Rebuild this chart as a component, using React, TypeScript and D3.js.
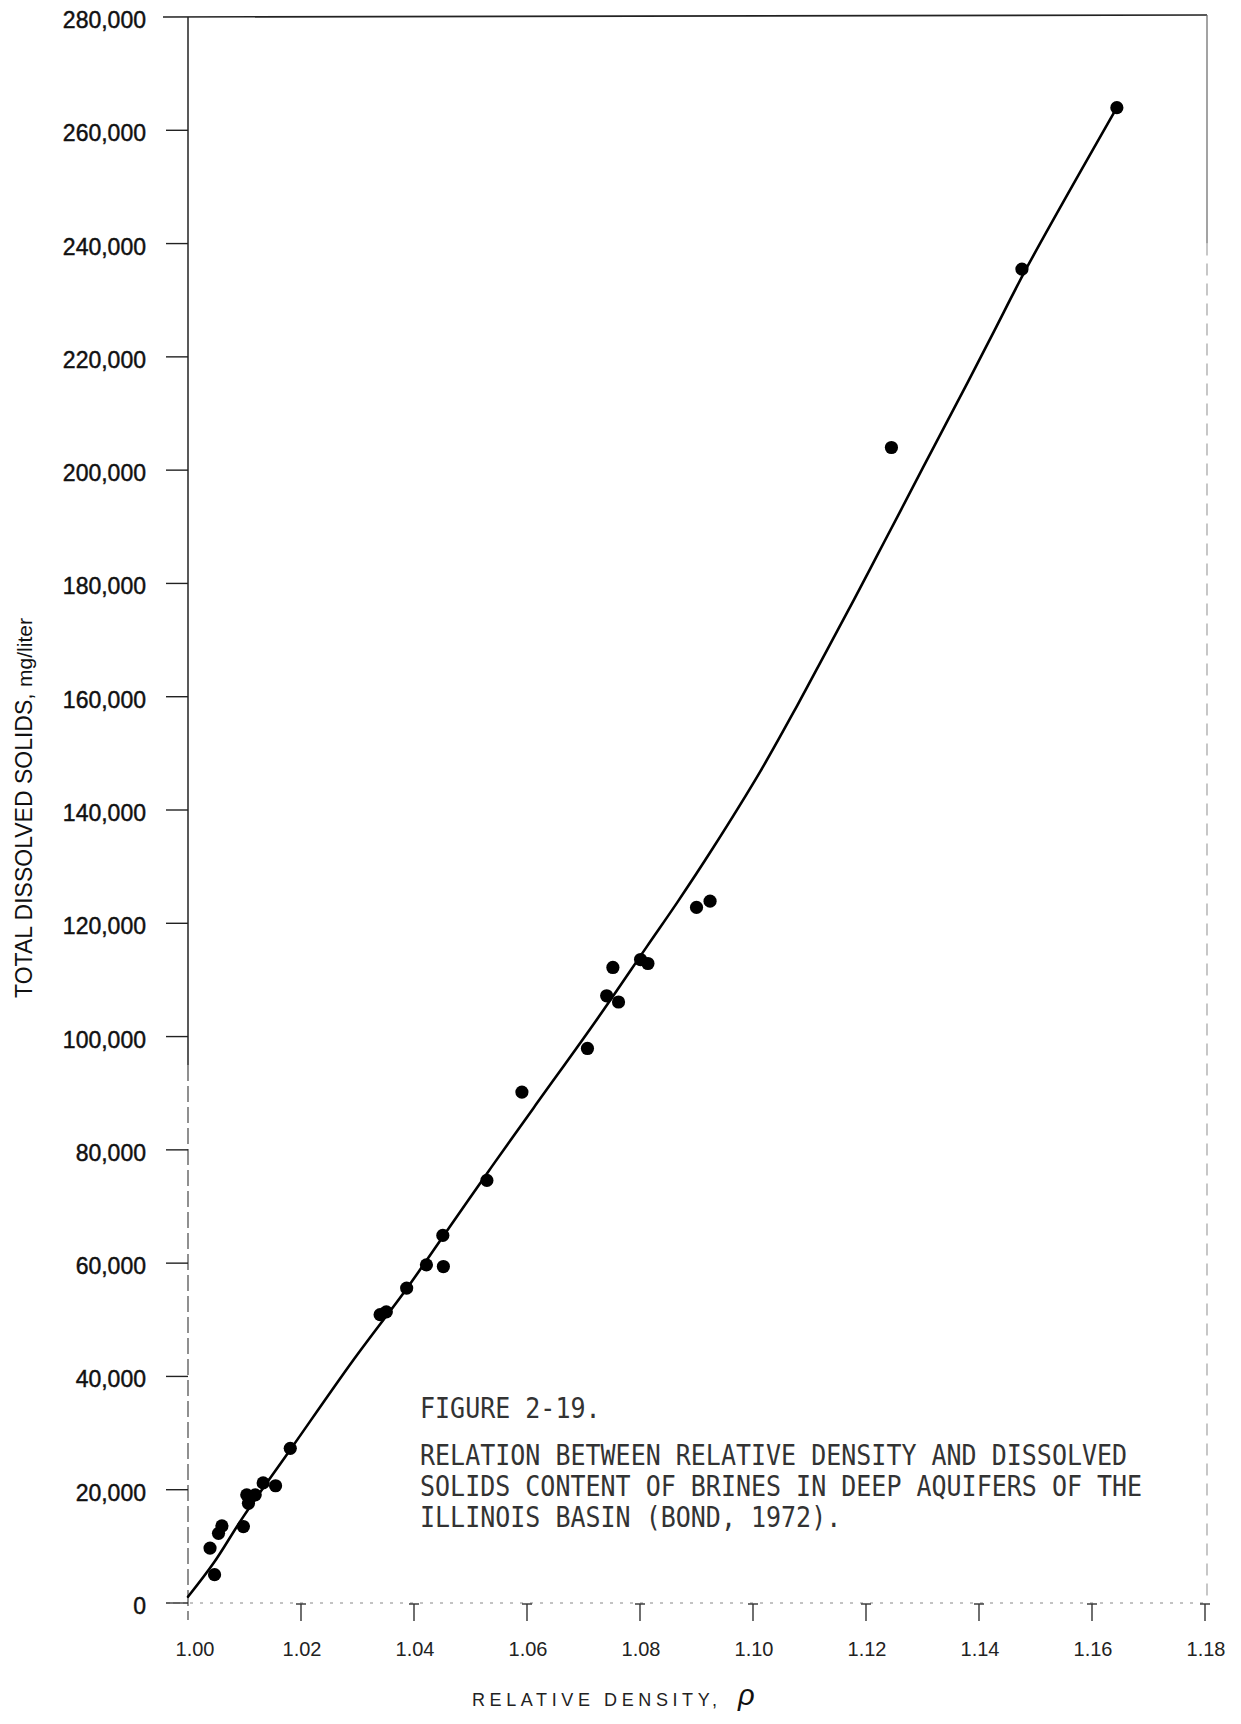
import React from 'react';
import * as d3 from 'd3';

// Brine samples: relative density and total dissolved solids (mg/liter)
const sampleRho = [
  1.0047, 1.0039, 1.0054, 1.006, 1.0098, 1.0107, 1.0104, 1.0119, 1.0133, 1.0155,
  1.0181, 1.034, 1.0351, 1.0387, 1.0422, 1.0452, 1.0451, 1.0529, 1.0591, 1.0707,
  1.0741, 1.0762, 1.0752, 1.0801, 1.0814, 1.09, 1.0924, 1.1245, 1.1476, 1.1644,
];
const sampleTds = [
  5000, 9700, 12300, 13600, 13500, 17600, 19100, 19100, 21200, 20700,
  27300, 50900, 51400, 55600, 59700, 59400, 64900, 74600, 90200, 97900,
  107200, 106100, 112200, 113600, 112900, 122800, 123900, 204000, 235500, 264000,
];

// Hand-fitted relation curve
const fitRho = [
  1.0, 1.0045, 1.0098, 1.0181, 1.0293, 1.0388, 1.0464, 1.0532, 1.0612, 1.0724,
  1.0813, 1.0866, 1.0928, 1.1013, 1.1078, 1.1126, 1.1179, 1.122, 1.1262, 1.1321,
  1.138, 1.1427, 1.1486, 1.1644,
];
const fitTds = [
  1100, 7000, 15250, 27050, 42950, 55630, 66520, 76240, 87450, 103060,
  116010, 123690, 133110, 146830, 158390, 167300, 177200, 185000, 193000, 204300,
  215500, 224600, 236000, 264000,
];

const xTickValues = [1.0, 1.02, 1.04, 1.06, 1.08, 1.1, 1.12, 1.14, 1.16, 1.18];
const yTickValues = [
  0, 20000, 40000, 60000, 80000, 100000, 120000, 140000,
  160000, 180000, 200000, 220000, 240000, 260000, 280000,
];

const figureLabel = 'FIGURE 2-19.';
const captionLines = [
  'RELATION BETWEEN RELATIVE DENSITY AND DISSOLVED',
  'SOLIDS CONTENT OF BRINES IN DEEP AQUIFERS OF THE',
  'ILLINOIS BASIN (BOND, 1972).',
];

const yTitle = 'TOTAL DISSOLVED SOLIDS, ';
const yUnits = 'mg/liter';
const xTitle = 'RELATIVE DENSITY,';
const xSymbol = 'ρ';

const SANS = '"Liberation Sans", Arial, Helvetica, sans-serif';
const MONO = '"DejaVu Sans Mono", "Liberation Mono", monospace';

export default function App() {
  const W = 1241;
  const H = 1724;

  const x = d3.scaleLinear().domain([1.0, 1.18]).range([188, 1205]);
  const y = d3.scaleLinear().domain([0, 280000]).range([1603, 17]);

  const x0 = x(1.0);
  const x1 = x(1.18);
  const yTop = y(280000);
  const yBase = y(0);

  const fitPts: [number, number][] = fitRho.map((r, i) => [r, fitTds[i]]);
  const fitPath =
    d3
      .line<[number, number]>()
      .x((d) => x(d[0]))
      .y((d) => y(d[1]))
      .curve(d3.curveCatmullRom.alpha(0.5))(fitPts) || '';

  const fmtY = d3.format(',');
  const fmtX = d3.format('.2f');

  return (
    <svg
      width={W}
      height={H}
      viewBox={`0 0 ${W} ${H}`}
      style={{ position: 'absolute', left: 0, top: 0, background: '#fff' }}
    >
      <rect x={0} y={0} width={W} height={H} fill="#fff" />

      {/* frame: top edge, right edge */}
      <line x1={163} x2={x1 + 2} y1={yTop} y2={yTop - 2} stroke="#222" strokeWidth={1.6} />
      <line x1={x1 + 2} x2={x1 + 2} y1={yTop - 2} y2={y(240000)} stroke="#666" strokeWidth={1.2} />
      <line
        x1={x1 + 2}
        x2={x1 + 2}
        y1={y(240000)}
        y2={yBase}
        stroke="#999"
        strokeWidth={1.1}
        strokeDasharray="12 8"
      />

      {/* left axis: solid upper part, broken lower part */}
      <line x1={x0} x2={x0} y1={yTop} y2={y(95000)} stroke="#222" strokeWidth={1.5} />
      <line
        x1={x0}
        x2={x0}
        y1={y(95000)}
        y2={yBase + 17}
        stroke="#555"
        strokeWidth={1.3}
        strokeDasharray="16 5"
      />

      {/* y ticks and labels */}
      {yTickValues.map((v) => (
        <g key={`yt-${v}`}>
          {v < 280000 && (
            <line x1={166} x2={x0} y1={y(v)} y2={y(v)} stroke="#222" strokeWidth={1.4} />
          )}
          <text
            x={146}
            y={y(v) + 3}
            textAnchor="end"
            dominantBaseline="central"
            fontFamily={SANS}
            fontSize={23}
            fill="#111"
            stroke="#111"
            strokeWidth={0.45}
          >
            {v === 0 ? '0' : fmtY(v)}
          </text>
        </g>
      ))}

      {/* bottom axis (dotted) */}
      <line
        x1={170}
        x2={x1 + 2}
        y1={yBase}
        y2={yBase}
        stroke="#888"
        strokeWidth={1.2}
        strokeDasharray="3 7"
      />

      {/* x ticks */}
      {xTickValues.map((v) => (
        <g key={`xt-${v}`}>
          {v > 1.0 && (
            <>
              <line x1={x(v) - 5} x2={x(v) + 5} y1={yBase + 1} y2={yBase + 1} stroke="#333" strokeWidth={1.4} />
              <line x1={x(v)} x2={x(v)} y1={yBase + 1} y2={yBase + 18} stroke="#333" strokeWidth={1.4} />
            </>
          )}
          <text
            x={x(v) + (v === 1.0 ? 7 : 1)}
            y={1656}
            textAnchor="middle"
            fontFamily={SANS}
            fontSize={20}
            fill="#222"
          >
            {fmtX(v)}
          </text>
        </g>
      ))}

      {/* axis titles */}
      <text
        transform="translate(32, 808) rotate(-90)"
        textAnchor="middle"
        fontFamily={SANS}
        fontSize={23}
        fill="#111"
      >
        {yTitle}
        <tspan fontSize={21}>{yUnits}</tspan>
      </text>

      <text
        x={472}
        y={1706}
        fontFamily={SANS}
        fontSize={18}
        letterSpacing={4.6}
        fill="#222"
      >
        {xTitle}
      </text>
      <text
        x={738}
        y={1705}
        fontFamily={SANS}
        fontStyle="italic"
        fontSize={29}
        fill="#111"
      >
        {xSymbol}
      </text>

      {/* fitted curve */}
      <path d={fitPath} fill="none" stroke="#000" strokeWidth={2.6} strokeLinejoin="round" strokeLinecap="round" />

      {/* samples */}
      {sampleRho.map((r, i) => (
        <circle key={`p-${i}`} cx={x(r)} cy={y(sampleTds[i])} r={6.6} fill="#000" />
      ))}

      {/* caption */}
      <text
        transform="translate(420, 1418) scale(1, 1.12)"
        fontFamily={MONO}
        fontSize={25}
        fill="#333"
      >
        {figureLabel}
      </text>
      {captionLines.map((t, i) => (
        <text
          key={`cap-${i}`}
          transform={`translate(420, ${1465 + i * 31}) scale(1, 1.12)`}
          fontFamily={MONO}
          fontSize={25}
          fill="#333"
          xmlSpace="preserve"
        >
          {t}
        </text>
      ))}
    </svg>
  );
}
